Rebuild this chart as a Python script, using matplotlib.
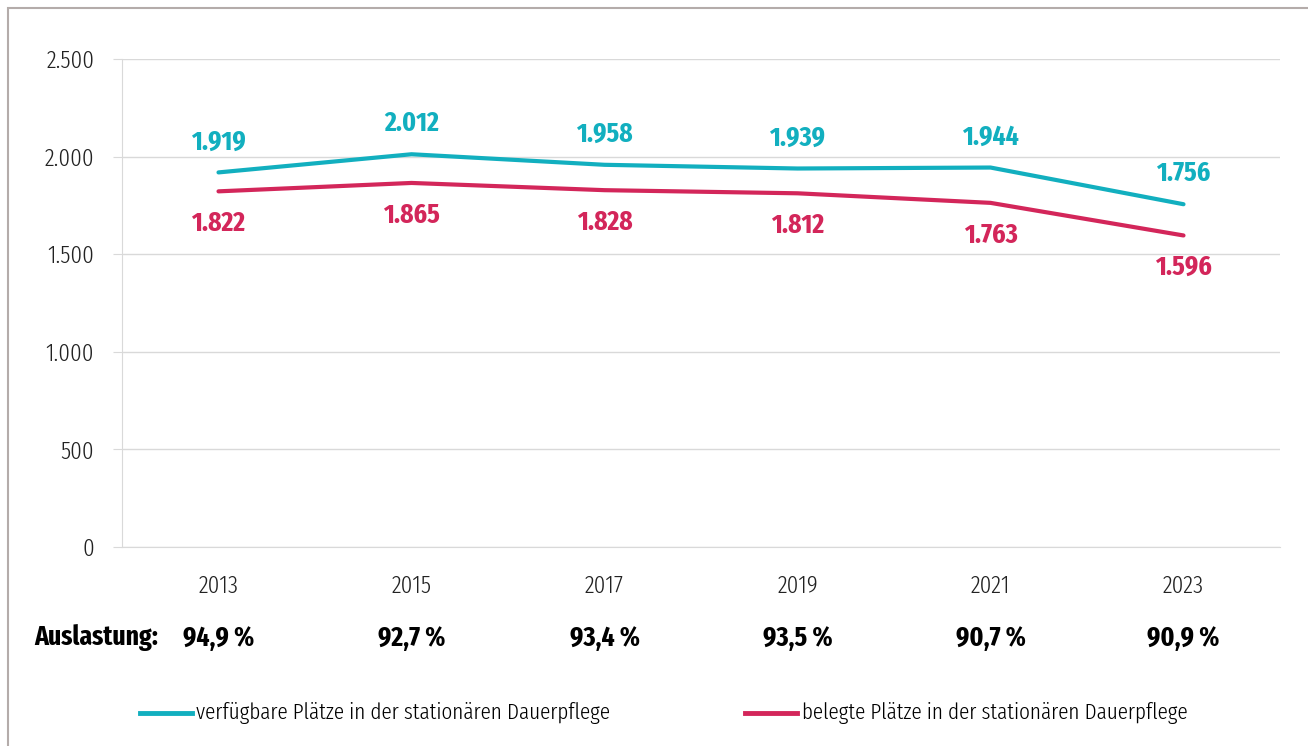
import matplotlib
matplotlib.use('Agg')
from matplotlib import pyplot as plt
from matplotlib.patches import Rectangle
from matplotlib.lines import Line2D

# Daten
jahre = ['2013', '2015', '2017', '2019', '2021', '2023']
verfuegbar = [1919, 2012, 1958, 1939, 1944, 1756]
belegt = [1822, 1865, 1828, 1812, 1763, 1596]
auslastung = ['94,9 %', '92,7 %', '93,4 %', '93,5 %', '90,7 %', '90,9 %']
y_ticks = [0, 500, 1000, 1500, 2000, 2500]

teal = '#12AFBF'
rot = '#D3265A'

# schmale Schrift
plt.rcParams['font.family'] = ['Fira Sans Extra Condensed', 'DejaVu Sans']
plt.rcParams['font.weight'] = 300

def fmt(v):
    return f'{v:,}'.replace(',', '.')

fig = plt.figure(figsize=(13.08, 7.46), dpi=100)
W, H = 1308, 746
ax = fig.add_axes([122 / W, 1 - 547 / H, 1158 / W, (547 - 59) / H])

x = list(range(len(jahre)))
ax.plot(x, verfuegbar, color=teal, lw=3, solid_capstyle='round', zorder=3)
ax.plot(x, belegt, color=rot, lw=3, solid_capstyle='round', zorder=3)

for i in x:
    ax.annotate(fmt(verfuegbar[i]), (i, verfuegbar[i]), xytext=(0, 22), textcoords='offset points',
                ha='center', va='center', color=teal, fontsize=20, fontweight=700)
    ax.annotate(fmt(belegt[i]), (i, belegt[i]), xytext=(0, -23), textcoords='offset points',
                ha='center', va='center', color=rot, fontsize=20, fontweight=700)

ax.set_xlim(-0.5, len(jahre) - 0.5)
ax.set_ylim(0, 2500)
ax.set_yticks(y_ticks)
ax.set_yticklabels([fmt(v) for v in y_ticks])
ax.set_xticks(x)
ax.set_xticklabels(jahre)
ax.grid(axis='y', color='#D9D9D9', lw=1)
ax.set_axisbelow(True)
for s in ['top', 'right']:
    ax.spines[s].set_visible(False)
ax.spines['left'].set_color('#D9D9D9')
ax.spines['bottom'].set_color('#D9D9D9')
ax.tick_params(axis='y', length=6.5, color='#D9D9D9', labelsize=18, labelcolor='#222222', pad=13.5)
ax.tick_params(axis='x', length=0, labelsize=18, labelcolor='#222222', pad=20)

# Auslastung-Zeile
row_y = 1 - 638 / H
fig.text(158 / W, row_y, 'Auslastung:', ha='right', va='center', fontsize=20, fontweight=700)
for i, a in enumerate(auslastung):
    xf = (122 + (i + 0.5) * 1158 / 6) / W
    fig.text(xf, row_y, a, ha='center', va='center', fontsize=20, fontweight=700)

# Legende
leg_y = 1 - 713 / H
fig.add_artist(Line2D([140 / W, 192 / W], [leg_y, leg_y], color=teal, lw=3.5))
fig.text(196 / W, leg_y, 'verfügbare Plätze in der stationären Dauerpflege', ha='left', va='center', fontsize=16.6)
fig.add_artist(Line2D([745 / W, 797 / W], [leg_y, leg_y], color=rot, lw=3.5))
fig.text(802 / W, leg_y, 'belegte Plätze in der stationären Dauerpflege', ha='left', va='center', fontsize=16.6)

# Rahmen
fig.add_artist(Rectangle((8 / W, -0.01), 1.05, 1 - 8 / H + 0.01, transform=fig.transFigure,
                         fill=False, edgecolor='#B4ACAA', lw=1.5))

fig.savefig('out.png', dpi=100)
